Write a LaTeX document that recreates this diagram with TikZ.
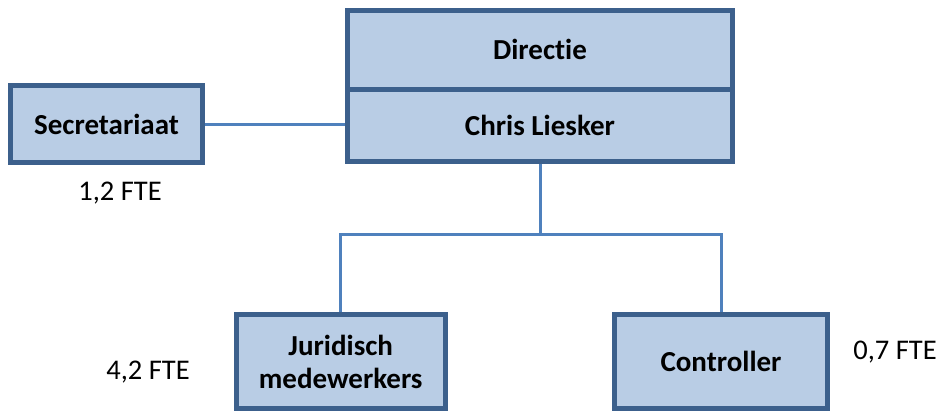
\documentclass[tikz,border=0pt]{standalone}
\usepackage{fontspec}
\setmainfont{Carlito}[Ligatures=NoCommon]
\usetikzlibrary{positioning, calc}

\definecolor{boxfill}{RGB}{185,205,229}
\definecolor{boxline}{RGB}{60,96,140}
\definecolor{wire}{RGB}{79,129,189}

\begin{document}
\begin{tikzpicture}[x=1pt, y=-1pt,
		unit/.style={draw=boxline, fill=boxfill, line width=5pt, align=center, font=\fontsize{29}{33}\selectfont\bfseries, inner sep=0pt},
		fte/.style={font=\fontsize{28.5}{32}\selectfont},
		link/.style={draw=wire, line width=3pt}]
			\useasboundingbox (0,0) rectangle (941,410);
			\node (dir) [unit, minimum width=385pt, minimum height=78.5pt] at (540,49.75) {Directie};
			\node (chris) [unit, minimum width=385pt, minimum height=72.5pt] at (540,125.25) {Chris Liesker};
			\node (sec) [unit, minimum width=192pt, minimum height=77pt] at (106.5,124) {Secretariaat};
			\node (jur) [unit, minimum width=209.5pt, minimum height=94pt] at (340.75,361.5) {Juridisch\\medewerkers};
			\node (ctrl) [unit, minimum width=213pt, minimum height=94pt] at (721,361.5) {Controller};
			
			\node (fsec) [fte] at (120,193) {1,2 FTE};
			\node (fjur) [fte] at (148,372) {4,2 FTE};
			\node (fctrl) [fte] at (895,352) {0,7 FTE};
			
			\coordinate (split) at ($(chris.south)+(0,70)$);
			\draw [link] (sec.east) -- (sec.east -| chris.west);
			\draw [link] (chris.south) -- (split);
			\draw [link] (split) -| (jur.north);
			\draw [link] (split) -| (ctrl.north);
		\end{tikzpicture}
\end{document}
